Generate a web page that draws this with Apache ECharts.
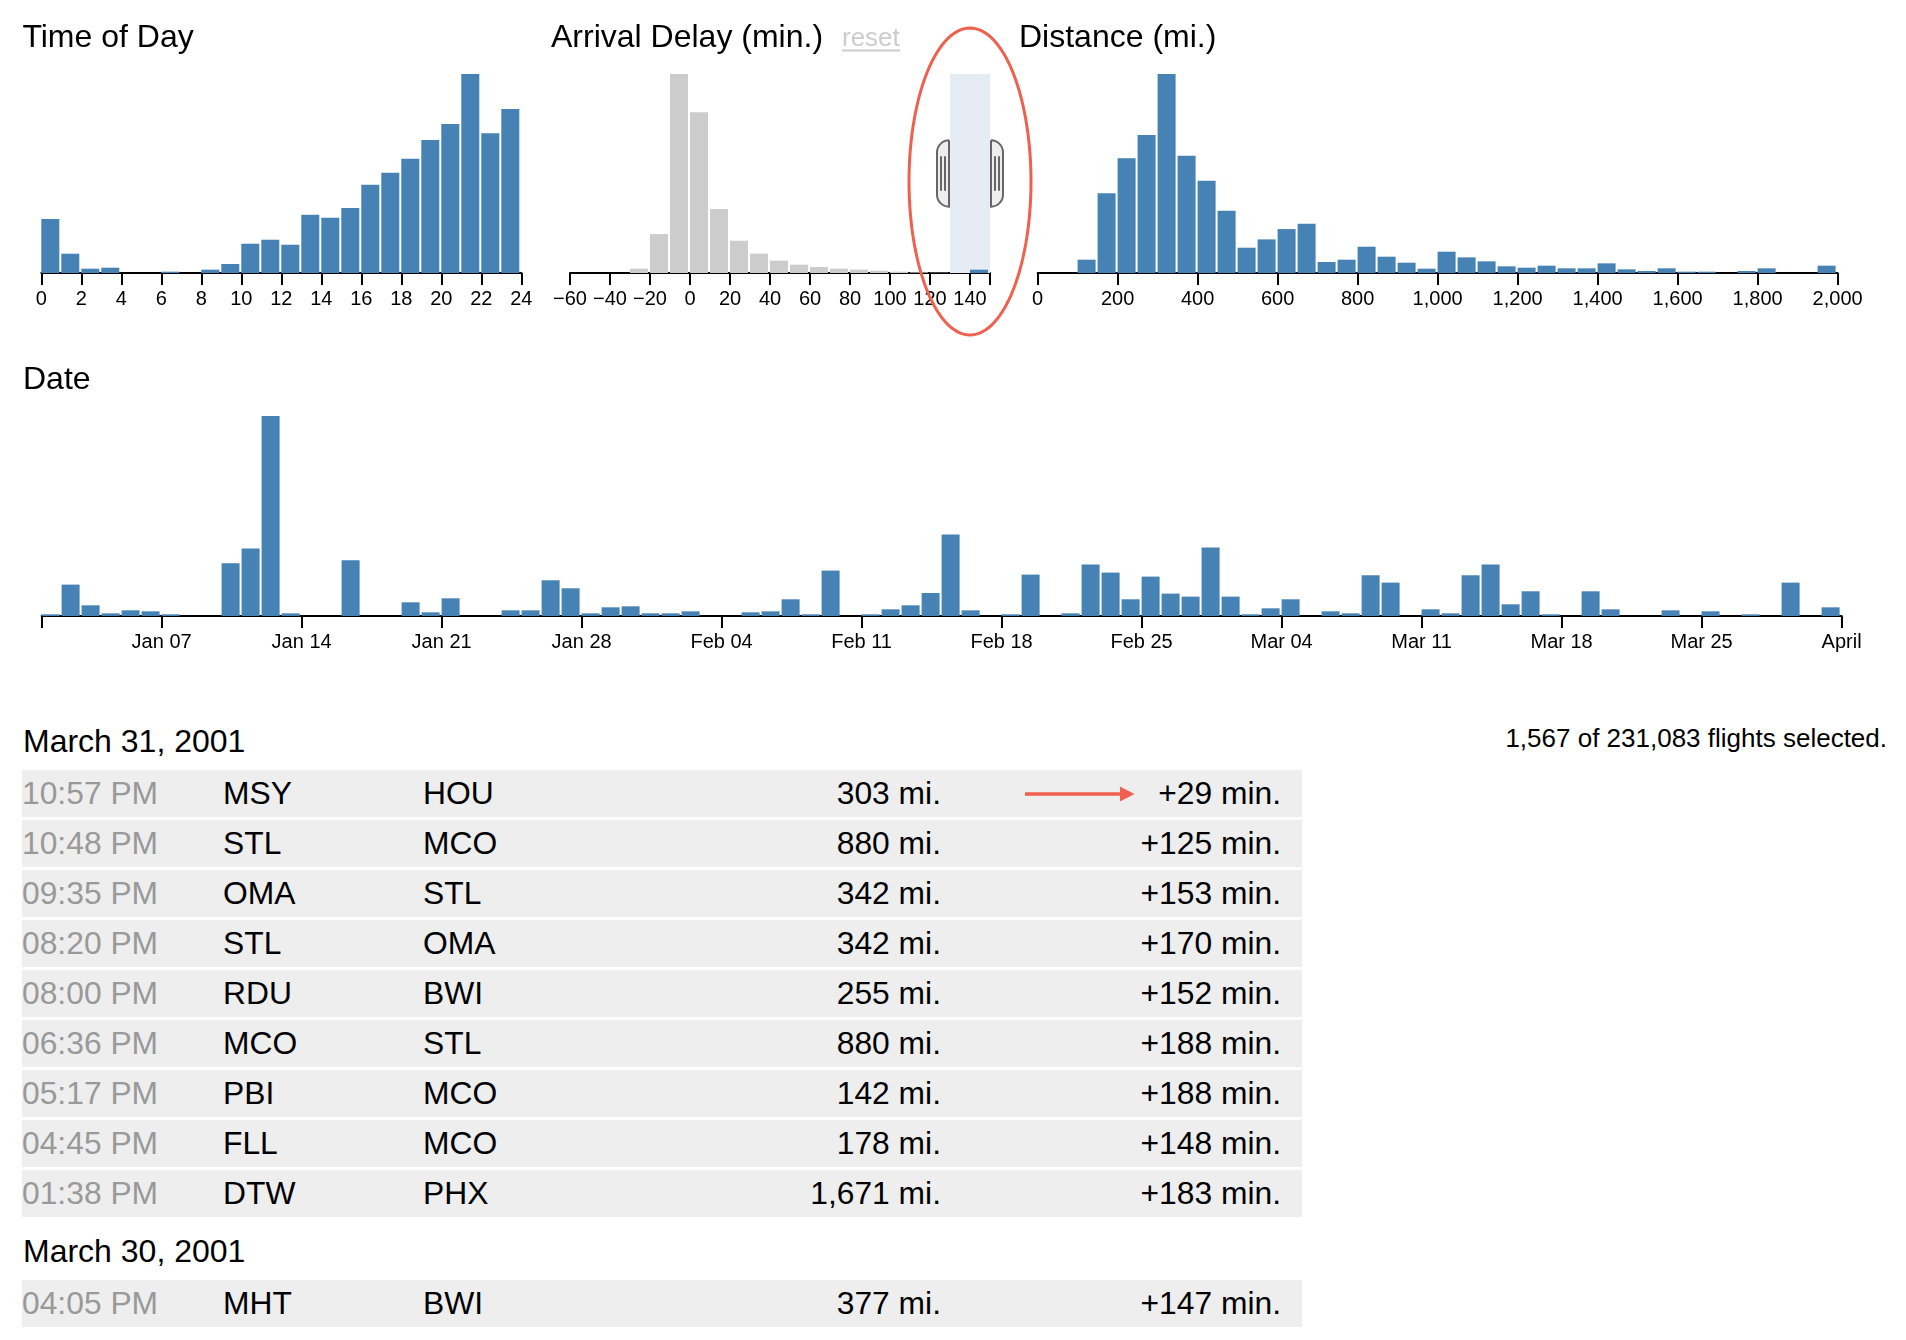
<!DOCTYPE html>
<html><head><meta charset="utf-8">
<script src="https://cdn.jsdelivr.net/npm/echarts@6/dist/echarts.min.js"></script>
<style>
html,body{margin:0;padding:0;background:#fff;}
body{width:1906px;height:1340px;position:relative;overflow:hidden;font-family:'Liberation Sans',Helvetica,Arial,sans-serif;}
#chart{position:absolute;left:0;top:0;width:1906px;height:1340px;z-index:2;pointer-events:none;}
#table{position:absolute;left:0;top:0;width:1906px;height:1340px;z-index:1;}
.hdr{position:absolute;left:23px;font-size:32px;line-height:32px;white-space:nowrap;color:#000;}
.stats{position:absolute;right:19px;font-size:26px;line-height:26px;white-space:nowrap;color:#000;}
.row{position:absolute;left:22px;width:1280px;height:47px;background:#eee;font-size:31.8px;line-height:47px;color:#000;}
.row span{position:absolute;top:0;white-space:nowrap;}
.row .t{left:0;color:#999;}
.row .o{left:201px;}
.row .d{left:401px;}
.row .dist{right:361px;}
.row .del{right:21px;}
</style></head><body>
<div id="table"></div><div id="chart"></div>
<script>
// ---------------- DATA ----------------
// Time of day: flights per hour (bins of 1 hour, 0..23)
const todCounts = [162,58,13,16,0,0,4,0,10,27,88,100,85,175,166,195,265,301,343,400,448,598,420,493];
const todTicks = [0,2,4,6,8,10,12,14,16,18,20,22,24];

// Arrival delay: bins of 10 minutes starting at -60
const delayBins = [-60,-50,-40,-30,-20,-10,0,10,20,30,40,50,60,70,80,90,100,110,120,130,140];
const delayAll = [0,0,0,13,117,598,483,192,97,58,37,25,18,13,10,7,4,2,1,0,0];
const delaySelected = [0,0,0,0,0,0,0,0,0,0,0,0,0,0,0,0,0,0,0,0,10];
const delayTicks = [-60,-40,-20,0,20,40,60,80,100,120,140,150];
const delayTickLabels = [-60,-40,-20,0,20,40,60,80,100,120,140];
const delayBrush = [130,150];

// Distance: bins of 50 miles starting at 0
const distCounts = [0,0,40,240,345,415,598,352,277,187,76,101,132,148,33,40,79,49,31,13,64,47,35,20,16,22,14,14,29,11,6,14,4,4,0,6,14,0,0,22];
const distTicks = [0,200,400,600,800,1000,1200,1400,1600,1800,2000];

// Date: flights per day, Jan 1 .. Mar 31, 2001 (day index 0 = Jan 1)
const dateCounts = [5,94,32,8,17,14,5,0,0,158,202,599,8,0,0,167,0,0,41,11,53,0,0,17,17,107,83,8,26,29,8,8,14,0,0,11,14,50,5,136,0,5,20,32,69,244,17,0,5,124,0,8,154,130,50,118,67,58,205,58,5,23,50,0,14,8,122,100,0,20,8,122,154,35,74,5,0,74,20,0,0,17,0,14,0,5,0,100,0,26];
const dateTickDays = [0,6,13,20,27,34,41,48,55,62,69,76,83,90];
const dateLabelDays = [6,13,20,27,34,41,48,55,62,69,76,83,90];
const dateLabels = ['Jan 07','Jan 14','Jan 21','Jan 28','Feb 04','Feb 11','Feb 18','Feb 25','Mar 04','Mar 11','Mar 18','Mar 25','April'];

// Flight list
const flightDate = ['March 31, 2001','March 31, 2001','March 31, 2001','March 31, 2001','March 31, 2001','March 31, 2001','March 31, 2001','March 31, 2001','March 31, 2001','March 30, 2001'];
const flightTime = ['10:57 PM','10:48 PM','09:35 PM','08:20 PM','08:00 PM','06:36 PM','05:17 PM','04:45 PM','01:38 PM','04:05 PM'];
const flightOrigin = ['MSY','STL','OMA','STL','RDU','MCO','PBI','FLL','DTW','MHT'];
const flightDest = ['HOU','MCO','STL','OMA','BWI','STL','MCO','MCO','PHX','BWI'];
const flightDist = [303,880,342,342,255,880,142,178,1671,377];
const flightDelay = [29,125,153,170,152,188,188,148,183,147];
const selectedCount = 1567;
const totalCount = 231083;

// ---------------- TABLE ----------------
const fmt = n => n.toLocaleString('en-US');
(function buildTable(){
  const t = document.getElementById('table');
  let y = 710; let cur = null; let html = '';
  html += '<div class="stats" style="top:725px">' + fmt(selectedCount) + ' of ' + fmt(totalCount) + ' flights selected.</div>';
  for (let i = 0; i < flightTime.length; i++) {
    if (flightDate[i] !== cur) {
      cur = flightDate[i];
      html += '<div class="hdr" style="top:' + (y + 42 - 27.1) + 'px">' + cur + '</div>';
      y += 60;
    }
    html += '<div class="row" style="top:' + y + 'px"><span class="t">' + flightTime[i] + '</span><span class="o">' + flightOrigin[i] +
      '</span><span class="d">' + flightDest[i] + '</span><span class="dist">' + fmt(flightDist[i]) + ' mi.</span><span class="del">+' + flightDelay[i] + ' min.</span></div>';
    y += 50;
  }
  t.innerHTML = html;
})();

// ---------------- CHART ----------------
const FONT = "'Liberation Sans', Helvetica, Arial, sans-serif";
const BLUE = '#4682b4', GRAY = '#cccccc', RED = '#f0604f';
const grids = [
  {left: 41.3, top: 74, width: 480, height: 199},
  {left: 570, top: 74, width: 420, height: 199},
  {left: 1037.6, top: 74, width: 800, height: 199},
  {left: 41.6, top: 416, width: 1800, height: 200}
];
function xAxisBase(idx, min, max, ticks, labels, formatter) {
  return {
    type: 'value', gridIndex: idx, min: min, max: max,
    axisLine: {show: true, onZero: false, lineStyle: {color: '#000', width: 2}},
    axisTick: {show: true, length: 12, lineStyle: {color: '#000', width: 2}, customValues: ticks},
    axisLabel: {show: true, fontSize: 20, color: '#000', fontFamily: FONT, margin: 16,
      customValues: labels, formatter: formatter, showMinLabel: true, showMaxLabel: true, hideOverlap: false},
    splitLine: {show: false}
  };
}
function yAxisBase(idx, max) {
  return {type: 'value', gridIndex: idx, min: 0, max: max, show: false, splitLine: {show: false}};
}
const chart = echarts.init(document.getElementById('chart'), null, {renderer: 'canvas'});
const delayMax = Math.max(...delayAll, ...delaySelected);
const option = {
  animation: false,
  backgroundColor: 'transparent',
  grid: grids.map(g => Object.assign({containLabel: false, outerBoundsMode: 'none'}, g)),
  xAxis: [
    xAxisBase(0, 0, 24, todTicks, todTicks, v => String(v)),
    xAxisBase(1, -60, 150, delayTicks, delayTickLabels, v => v < 0 ? '\u2212' + (-v) : String(v)),
    xAxisBase(2, 0, 2000, distTicks, distTicks, v => fmt(v)),
    xAxisBase(3, 0, 90, dateTickDays, dateLabelDays, v => { const k = dateLabelDays.indexOf(Math.round(v)); return k >= 0 ? dateLabels[k] : ''; })
  ],
  yAxis: [
    yAxisBase(0, Math.max(...todCounts)),
    yAxisBase(1, delayMax),
    yAxisBase(2, Math.max(...distCounts)),
    yAxisBase(3, Math.max(...dateCounts))
  ],
  series: [
    {type: 'bar', xAxisIndex: 0, yAxisIndex: 0, barWidth: 18, itemStyle: {color: BLUE},
      data: todCounts.map((v, i) => [i + 0.45, v])},
    {type: 'bar', xAxisIndex: 1, yAxisIndex: 1, barWidth: 18, barGap: '-100%', itemStyle: {color: GRAY},
      data: delayAll.map((v, i) => [delayBins[i] + 4.5, v]),
      markArea: {silent: true, itemStyle: {color: '#e6ecf4'},
        data: [[{xAxis: delayBrush[0], yAxis: 0}, {xAxis: delayBrush[1], yAxis: delayMax}]]}},
    {type: 'bar', xAxisIndex: 1, yAxisIndex: 1, barWidth: 18, barGap: '-100%', itemStyle: {color: BLUE}, z: 5,
      data: delaySelected.map((v, i) => [delayBins[i] + 4.5, v])},
    {type: 'bar', xAxisIndex: 2, yAxisIndex: 2, barWidth: 18, itemStyle: {color: BLUE},
      data: distCounts.map((v, i) => [i * 50 + 22.5, v])},
    {type: 'bar', xAxisIndex: 3, yAxisIndex: 3, barWidth: 18, itemStyle: {color: BLUE},
      data: dateCounts.map((v, i) => [i + 0.45, v])}
  ]
};
chart.setOption(option);

// Titles, brush handles, annotations
function title(text, x, baseline, size, color) {
  return {type: 'text', x: x, y: baseline - size * 0.8465, z: 10,
    style: {text: text, fontSize: size, fontFamily: FONT, fill: color || '#000',
      textAlign: 'left', textVerticalAlign: 'top'}};
}
const g1 = grids[1];
const bx0 = chart.convertToPixel({xAxisIndex: 1}, delayBrush[0]);
const bx1 = chart.convertToPixel({xAxisIndex: 1}, delayBrush[1]);
const bxc = chart.convertToPixel({xAxisIndex: 1}, (delayBrush[0] + delayBrush[1]) / 2);
const hy1 = g1.top + g1.height / 3, hy2 = g1.top + g1.height * 2 / 3;
function handle(edge, dir) {
  // rounded outer side, flat inner side, two grip lines
  const x0 = dir < 0 ? edge - 13 : edge + 1;
  const r = dir < 0 ? [12, 0, 0, 12] : [0, 12, 12, 0];
  return [
    {type: 'rect', z: 20, shape: {x: x0, y: hy1, width: 12, height: hy2 - hy1, r: r},
      style: {fill: '#eeeeee', stroke: '#666666', lineWidth: 2}},
    {type: 'line', z: 21, shape: {x1: edge + 5 * dir, y1: hy1 + 16, x2: edge + 5 * dir, y2: hy2 - 16}, style: {stroke: '#666666', lineWidth: 2}},
    {type: 'line', z: 21, shape: {x1: edge + 9 * dir, y1: hy1 + 16, x2: edge + 9 * dir, y2: hy2 - 16}, style: {stroke: '#666666', lineWidth: 2}}
  ];
}
// annotation ellipse around the brush
const ellPts = [];
for (let k = 0; k < 120; k++) {
  const a = k / 120 * Math.PI * 2;
  ellPts.push([bxc + 61 * Math.cos(a), g1.top + 107.5 + 153.5 * Math.sin(a)]);
}
chart.setOption({
  graphic: [
    title('Time of Day', 22.4, 49, 32),
    title('Arrival Delay (min.)', 551, 49, 32),
    title('reset', 842, 47.5, 26, '#cccccc'),
    {type: 'line', z: 10, shape: {x1: 842, y1: 50.5, x2: 900, y2: 50.5}, style: {stroke: '#cccccc', lineWidth: 2}},
    title('Distance (mi.)', 1019, 49, 32),
    title('Date', 23, 391, 32)
  ].concat(handle(bx0, -1), handle(bx1, 1), [
    {type: 'polygon', z: 30, shape: {points: ellPts}, style: {fill: null, stroke: RED, lineWidth: 3}},
    {type: 'line', z: 30, shape: {x1: 1025, y1: 794, x2: 1122, y2: 794}, style: {stroke: RED, lineWidth: 3.5}},
    {type: 'polygon', z: 30, shape: {points: [[1120, 786.5], [1134.5, 794], [1120, 801.5]]}, style: {fill: RED}}
  ])
});
</script></body></html>
